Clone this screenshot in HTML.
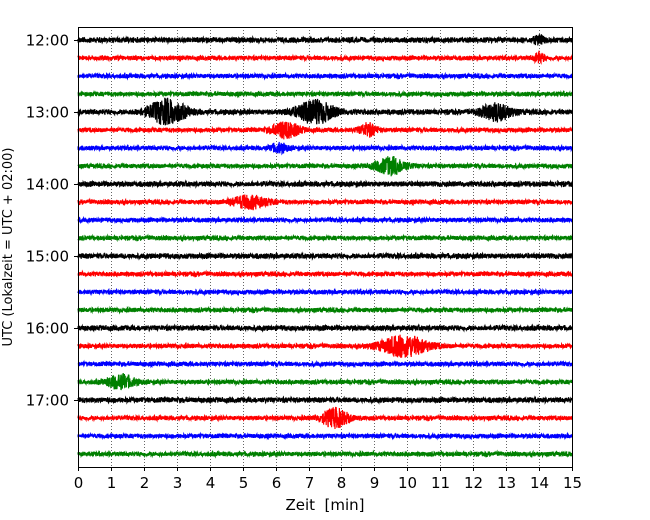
<!DOCTYPE html>
<html><head><meta charset="utf-8">
<style>
html,body{margin:0;padding:0;background:#fff;}
svg{display:block;font-family:"DejaVu Sans","Liberation Sans",sans-serif;}
</style></head>
<body>
<svg id="chart" width="650" height="520" viewBox="0 0 650 520">
  <g id="grid"></g>
  <g id="traces"></g>
  <rect x="78.5" y="27.5" width="494" height="440" fill="none" stroke="#000" stroke-width="1"/>
  <g id="xticks"></g>
  <g id="yticks"></g>
  <text x="325" y="510" font-size="15" text-anchor="middle" style="white-space:pre">Zeit  [min]</text>
  <text transform="translate(12,247) rotate(-90)" font-size="13" text-anchor="middle">UTC (Lokalzeit = UTC + 02:00)</text>
</svg>
<script>
// ---- data ----
const xTicks = [0,1,2,3,4,5,6,7,8,9,10,11,12,13,14,15];
const yTickLabels = ["12:00","13:00","14:00","15:00","16:00","17:00"];
const rowColors = ["#000000","#ff0000","#0000ff","#008000"];
const rowCount = 24;
const baseNoise = [3,2.6,2.6,2.6];
// events: [row, time(min), peak amplitude(px), duration(min)]
const events = [
  [4,2.7,12,1.1],[4,7.2,11,1.1],[4,12.7,8,0.9],
  [5,6.3,8,0.8],[5,8.8,6,0.5],
  [6,6.1,4,0.5],
  [7,9.5,8,0.9],
  [9,5.2,6,1.1],
  [17,9.9,10,1.4],
  [19,1.3,7,0.8],
  [21,7.8,9,0.8],
  [0,14,4,0.3],[1,14,5,0.3]
];
// ---- axes ----
const X0=78, X1=572, Y0=27, Y1=467;
const xS = t => X0 + (t/15)*(X1-X0);
const rowY = r => 40 + r*18;
const NS="http://www.w3.org/2000/svg";
function mk(tag, attrs, parent){const e=document.createElementNS(NS,tag);for(const k in attrs)e.setAttribute(k,attrs[k]);parent.appendChild(e);return e;}

const grid=document.getElementById('grid'), xt=document.getElementById('xticks'), yt=document.getElementById('yticks'), tr=document.getElementById('traces');
xTicks.forEach(t=>{
  const x=Math.round(xS(t))+0.5;
  if(t>0&&t<15){const g=mk('line',{x1:x,x2:x,y1:Y0,y2:Y1,stroke:'#000','stroke-width':0.6,'stroke-dasharray':'1,2'},grid);
    
    }
  const tk=mk('line',{x1:x,x2:x,y1:Y1,y2:Y1+4,stroke:'#000'},xt);
  
  
  const lb=mk('text',{x:x,y:Y1+21,'font-size':15,'text-anchor':'middle'},xt);
  lb.textContent=t;
  
  
});
yTickLabels.forEach((s,i)=>{
  const y=rowY(i*4)+0.5;
  const tk=mk('line',{x1:X0-4,x2:X0,y1:y,y2:y,stroke:'#000'},yt);
  
  
  const lb=mk('text',{x:X0-9,y:y+5,'font-size':15,'text-anchor':'end'},yt);
  lb.textContent=s;
  
  
});
// deterministic pseudo noise texture
let seed=12345;
function rnd(){seed=(seed*1103515245+12345)&0x7fffffff;return seed/0x7fffffff;}
for(let r=0;r<rowCount;r++){
  const c=r%4, yb=rowY(r);
  const pts=[];
  for(let px=X0; px<=X1; px+=0.2){
    const t=(px-X0)/(X1-X0)*15;
    let a=baseNoise[c]*(0.7+0.3*rnd());
    events.forEach(e=>{if(e[0]===r){const d=(t-e[1])/(e[3]/2);a+=e[2]*Math.exp(-d*d);}});
    const v=(rnd()*2-1)*a;
    pts.push(px.toFixed(2)+','+(yb+v).toFixed(1));
  }
  const pl=mk('polyline',{points:pts.join(' '),fill:'none',stroke:rowColors[c],'stroke-width':1.2},tr);
  
  
}
</script>
</body></html>
